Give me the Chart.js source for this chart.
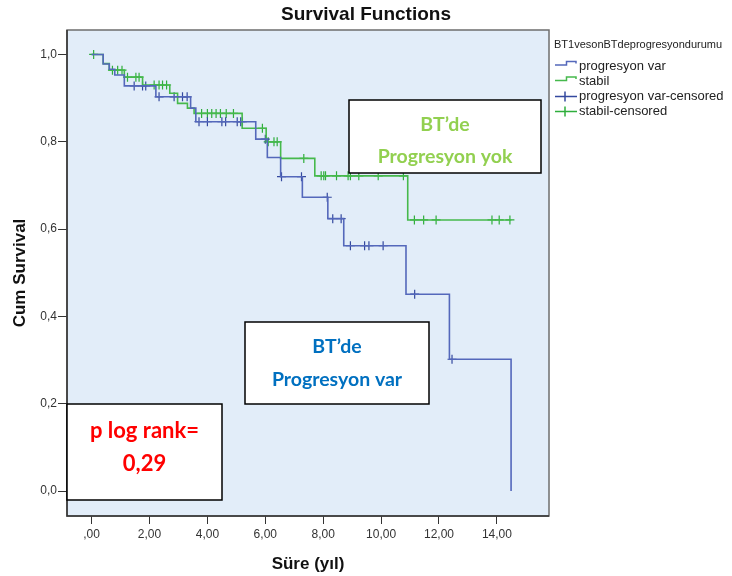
<!DOCTYPE html>
<html>
<head>
<meta charset="utf-8">
<script src="https://cdn.jsdelivr.net/npm/chart.js@4.4.1/dist/chart.umd.min.js"></script>
<style>
  html, body { margin: 0; padding: 0; background: #fff; }
  #wrap { width: 732px; height: 576px; }
</style>
</head>
<body>
<div id="wrap"><canvas id="km-chart" width="732" height="576"></canvas></div>
<script>
// tick values
const xTicks = [0, 2, 4, 6, 8, 10, 12, 14];
const yTicks = [0, 0.2, 0.4, 0.6, 0.8, 1.0];

// progresyon var: step times and survival after each step
const progTime = [0, 0.40, 0.61, 0.80, 1.13, 2.22, 3.42, 3.60, 5.67, 6.07, 6.53, 7.28, 8.16, 8.71, 10.86, 12.36, 14.49];
const progSurv = [1.0, 0.978, 0.966, 0.953, 0.928, 0.903, 0.877, 0.846, 0.806, 0.764, 0.720, 0.673, 0.624, 0.562, 0.451, 0.302, 0.0];
const progCensored = [1.47, 1.76, 1.87, 2.33, 2.85, 3.14, 3.30, 3.71, 4.00, 4.50, 4.63, 5.03, 5.15, 5.21, 6.00, 6.56, 7.25,
  8.14, 8.33, 8.62, 8.94, 9.43, 9.58, 10.07, 11.16, 12.45];

// stabil
const stabilTime = [0, 0.40, 0.61, 1.13, 1.76, 2.70, 2.97, 3.31, 3.54, 5.20, 6.03, 6.53, 7.71, 10.92, 14.50];
const stabilSurv = [1.0, 0.979, 0.964, 0.948, 0.930, 0.911, 0.888, 0.877, 0.865, 0.831, 0.800, 0.762, 0.722, 0.621, 0.621];
const stabilCensored = [0.07, 0.72, 0.90, 1.05, 1.24, 1.53, 1.64, 2.16, 2.33, 2.45, 2.59, 3.80, 4.00, 4.15, 4.30, 4.45, 4.65, 4.90,
  5.90, 6.10, 6.30, 6.41, 7.33, 7.93, 8.02, 8.08, 8.46, 8.86, 8.94, 9.23, 9.90, 10.77, 11.15, 11.47, 11.90, 13.83, 14.08, 14.45];

const blueLine = '#5468bb';
const blueMark = '#34499f';
const greenLine = '#46b94c';
const greenMark = '#2fae3c';

// survival value of a step curve at time t
function survAt(times, surv, t) {
  let s = surv[0];
  for (let i = 0; i < times.length; i++) {
    if (times[i] <= t) s = surv[i];
  }
  return s;
}

function stepPoints(times, surv) {
  return times.map((t, i) => ({ x: t, y: surv[i] }));
}

function censPoints(cens, times, surv) {
  return cens.map(t => ({ x: t, y: survAt(times, surv, t) }));
}

const fmtX = v => (v === 0 ? ',00' : v.toFixed(2).replace('.', ','));
const fmtY = v => v.toFixed(1).replace('.', ',');

const boxes = [
  { x: 349, y: 100, w: 192, h: 73, color: '#92d050', size: 19.5, lines: ['BT\u2019de', 'Progresyon yok'], ly: [125, 157] },
  { x: 245, y: 322, w: 184, h: 82, color: '#0070c0', size: 19.5, lines: ['BT\u2019de', 'Progresyon var'], ly: [347, 380] },
  { x: 67, y: 404, w: 155, h: 96, color: '#ff0000', size: 22, lines: ['p log rank=', '0,29'], ly: [431, 464] }
];

const decorPlugin = {
  id: 'decor',
  beforeDatasetsDraw(chart) {
    const { ctx, chartArea: a } = chart;
    ctx.save();
    ctx.fillStyle = '#e2edf9';
    ctx.fillRect(a.left, a.top, a.right - a.left, a.bottom - a.top);
    ctx.restore();
  },
  afterDatasetsDraw(chart) {
    const { ctx, chartArea: a } = chart;
    ctx.save();
    // frame
    ctx.strokeStyle = '#6e6e6e';
    ctx.lineWidth = 1.5;
    ctx.strokeRect(a.left, a.top, a.right - a.left, a.bottom - a.top);
    ctx.strokeStyle = '#333';
    ctx.beginPath();
    ctx.moveTo(a.left, a.top);
    ctx.lineTo(a.left, a.bottom);
    ctx.lineTo(a.right, a.bottom);
    ctx.stroke();

    // annotation boxes
    boxes.forEach(b => {
      ctx.fillStyle = '#fff';
      ctx.fillRect(b.x, b.y, b.w, b.h);
      ctx.strokeStyle = '#000';
      ctx.lineWidth = 1.5;
      ctx.strokeRect(b.x, b.y, b.w, b.h);
      ctx.fillStyle = b.color;
      ctx.font = 'bold ' + b.size + 'px Lato, "Liberation Sans", sans-serif';
      ctx.textAlign = 'center';
      ctx.textBaseline = 'middle';
      b.lines.forEach((s, i) => ctx.fillText(s, b.x + b.w / 2, b.ly[i]));
    });

    // title
    ctx.fillStyle = '#111';
    ctx.font = 'bold 19px "Liberation Sans", Arial, sans-serif';
    ctx.textAlign = 'center';
    ctx.textBaseline = 'middle';
    ctx.fillText('Survival Functions', 366, 15);

    // legend
    ctx.textAlign = 'left';
    ctx.fillStyle = '#222';
    ctx.font = '11px "Liberation Sans", Arial, sans-serif';
    ctx.fillText('BT1vesonBTdeprogresyondurumu', 554, 45);
    ctx.font = '13px "Liberation Sans", Arial, sans-serif';
    const items = [
      { label: 'progresyon var', color: blueLine, step: true, y: 66 },
      { label: 'stabil', color: greenLine, step: true, y: 81.5 },
      { label: 'progresyon var-censored', color: blueMark, step: false, y: 96.5 },
      { label: 'stabil-censored', color: greenMark, step: false, y: 111.5 }
    ];
    items.forEach(it => {
      ctx.strokeStyle = it.color;
      ctx.lineWidth = 1.5;
      ctx.beginPath();
      if (it.step) {
        ctx.moveTo(555, it.y - 1);
        ctx.lineTo(566.5, it.y - 1);
        ctx.lineTo(566.5, it.y - 4.5);
        ctx.lineTo(576, it.y - 4.5);
        ctx.lineTo(576, it.y - 2.5);
      } else {
        ctx.moveTo(555, it.y);
        ctx.lineTo(577, it.y);
        ctx.moveTo(565, it.y - 5);
        ctx.lineTo(565, it.y + 5);
      }
      ctx.stroke();
      ctx.fillStyle = '#222';
      ctx.fillText(it.label, 579, it.y);
    });
    ctx.restore();
  }
};

new Chart(document.getElementById('km-chart').getContext('2d'), {
  type: 'line',
  data: {
    datasets: [
      {
        label: 'progresyon var',
        data: stepPoints(progTime, progSurv),
        stepped: 'before',
        borderColor: blueLine,
        borderWidth: 1.6,
        pointRadius: 0,
        fill: false
      },
      {
        label: 'stabil',
        data: stepPoints(stabilTime, stabilSurv),
        stepped: 'before',
        borderColor: greenLine,
        borderWidth: 1.6,
        pointRadius: 0,
        fill: false
      },
      {
        label: 'progresyon var-censored',
        data: censPoints(progCensored, progTime, progSurv),
        showLine: false,
        pointStyle: 'cross',
        pointRadius: 4.5,
        pointBorderWidth: 1.2,
        pointBorderColor: blueMark
      },
      {
        label: 'stabil-censored',
        data: censPoints(stabilCensored, stabilTime, stabilSurv),
        showLine: false,
        pointStyle: 'cross',
        pointRadius: 4.5,
        pointBorderWidth: 1.2,
        pointBorderColor: greenMark
      }
    ]
  },
  options: {
    responsive: false,
    animation: false,
    layout: { padding: { top: 30, right: 183, left: 0, bottom: 0 } },
    plugins: {
      legend: { display: false },
      tooltip: { enabled: false }
    },
    scales: {
      x: {
        type: 'linear',
        min: -0.85,
        max: 15.8,
        afterBuildTicks: s => { s.ticks = xTicks.map(v => ({ value: v })); },
        afterFit: s => { s.height = 60; },
        grid: { drawOnChartArea: false, drawTicks: true, tickLength: 8, color: '#333' },
        border: { display: false },
        ticks: {
          padding: 3,
          color: '#333',
          font: { size: 12, family: '"Liberation Sans", Arial, sans-serif' },
          callback: v => fmtX(v),
          maxRotation: 0
        },
        title: {
          display: true,
          text: 'Süre (yıl)',
          color: '#111',
          padding: { top: 0, bottom: 1 },
          font: { size: 17, weight: 'bold', family: '"Liberation Sans", Arial, sans-serif' }
        }
      },
      y: {
        type: 'linear',
        min: -0.057,
        max: 1.056,
        afterBuildTicks: s => { s.ticks = yTicks.map(v => ({ value: v })); },
        afterFit: s => { s.width = 67; },
        grid: { drawOnChartArea: false, drawTicks: true, tickLength: 9, color: '#333' },
        border: { display: false },
        ticks: {
          padding: 1,
          color: '#333',
          font: { size: 12, family: '"Liberation Sans", Arial, sans-serif' },
          callback: v => fmtY(v)
        },
        title: {
          display: true,
          text: 'Cum Survival',
          color: '#111',
          padding: { top: 10, bottom: 0 },
          font: { size: 17, weight: 'bold', family: '"Liberation Sans", Arial, sans-serif' }
        }
      }
    }
  },
  plugins: [decorPlugin]
});
</script>
</body>
</html>
